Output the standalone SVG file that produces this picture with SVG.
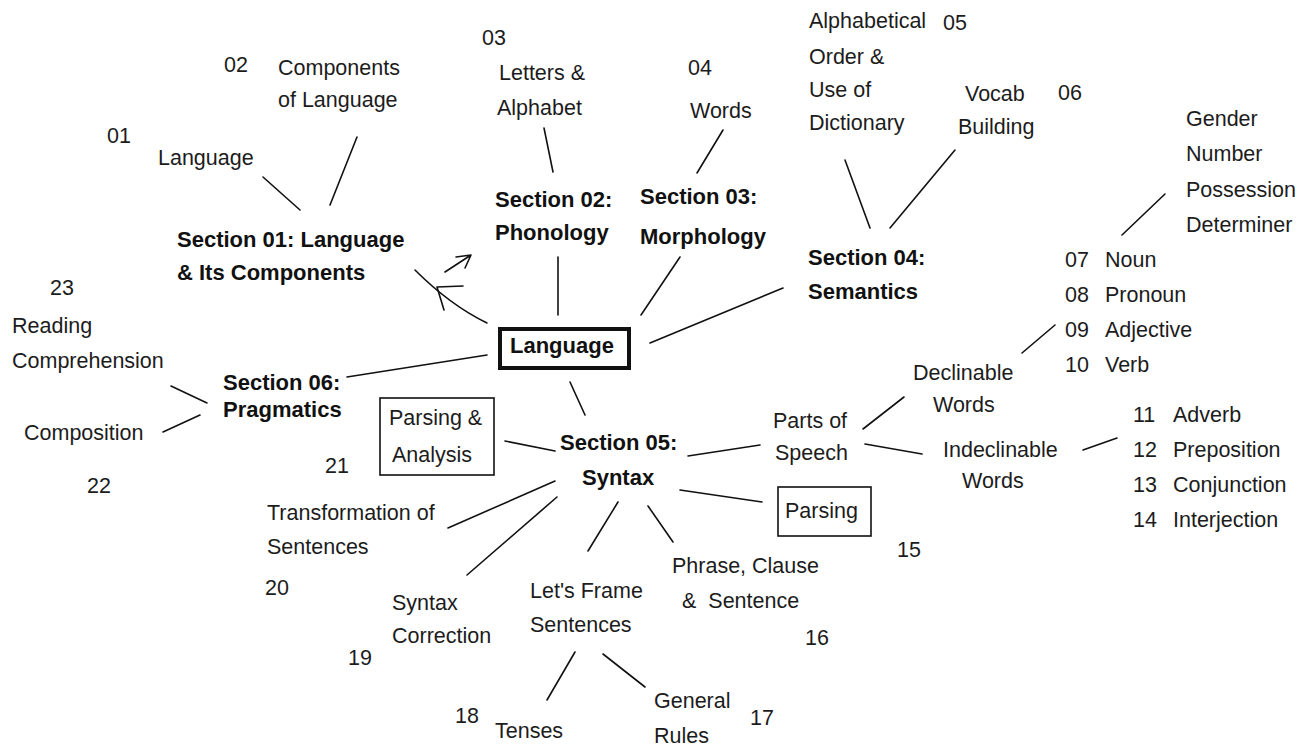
<svg xmlns="http://www.w3.org/2000/svg" width="1313" height="749" viewBox="0 0 1313 749">
<style>
text{font-family:"Liberation Sans",Arial,sans-serif;font-size:21.5px;fill:#1c1c1c}
.b{font-weight:bold;font-size:22px;fill:#111}
.c line,.c path{stroke:#111;stroke-width:1.6;fill:none;stroke-linecap:round}
.box{fill:none;stroke:#111;stroke-width:1.6}
</style>
<rect width="1313" height="749" fill="#fff"/>
<g class="c" id="connectors">
<line x1="263" y1="177" x2="300" y2="210"/>
<line x1="357" y1="137" x2="330" y2="205"/>
<line x1="544" y1="128" x2="553" y2="172"/>
<line x1="723" y1="130" x2="697" y2="173"/>
<line x1="845" y1="160" x2="870" y2="228"/>
<line x1="955" y1="150" x2="890" y2="228"/>
<line x1="1122" y1="235" x2="1165" y2="194"/>
<line x1="558" y1="257" x2="558" y2="315"/>
<line x1="641" y1="315" x2="680" y2="257"/>
<line x1="650" y1="343" x2="783" y2="288"/>
<line x1="347" y1="377" x2="487" y2="355"/>
<line x1="570" y1="382" x2="585" y2="415"/>
<line x1="171" y1="386" x2="207" y2="403"/>
<line x1="163" y1="432" x2="200" y2="415"/>
<path d="M487,323 Q450,305 415,270"/>
<path d="M437,287 L463,286 M437,287 L444,310"/>
<path d="M445,272 L471,255 M471,255 L456,257 M471,255 L465,268"/>
<line x1="505" y1="441" x2="555" y2="451"/>
<line x1="448" y1="528" x2="555" y2="481"/>
<line x1="557" y1="497" x2="467" y2="575"/>
<line x1="618" y1="502" x2="588" y2="551"/>
<line x1="648" y1="506" x2="673" y2="542"/>
<line x1="688" y1="456" x2="760" y2="445"/>
<line x1="680" y1="490" x2="762" y2="502"/>
<line x1="863" y1="429" x2="904" y2="397"/>
<line x1="865" y1="444" x2="922" y2="454"/>
<line x1="1022" y1="353" x2="1055" y2="325"/>
<line x1="1083" y1="450" x2="1117" y2="438"/>
<line x1="575" y1="652" x2="547" y2="700"/>
<line x1="603" y1="654" x2="645" y2="687"/>
</g>
<g id="n01"><text x="107" y="143">01</text><text x="158" y="165">Language</text></g>
<g id="n02"><text x="224" y="72">02</text><text x="278" y="75">Components</text><text x="278" y="107">of Language</text></g>
<g id="n03"><text x="482" y="45">03</text><text x="499" y="80">Letters &amp;</text><text x="497" y="115">Alphabet</text></g>
<g id="n04"><text x="688" y="75">04</text><text x="690" y="118">Words</text></g>
<g id="n05"><text x="809" y="28">Alphabetical</text><text x="809" y="64">Order &amp;</text><text x="809" y="97">Use of</text><text x="809" y="130">Dictionary</text><text x="943" y="30">05</text></g>
<g id="n06"><text x="965" y="101">Vocab</text><text x="958" y="134">Building</text><text x="1058" y="100">06</text></g>
<g id="noun-features"><text x="1186" y="126">Gender</text><text x="1186" y="161">Number</text><text x="1186" y="197">Possession</text><text x="1186" y="232">Determiner</text></g>
<g id="declinable-list"><text x="1065" y="267">07</text><text x="1105" y="267">Noun</text><text x="1065" y="302">08</text><text x="1105" y="302">Pronoun</text><text x="1065" y="337">09</text><text x="1105" y="337">Adjective</text><text x="1065" y="372">10</text><text x="1105" y="372">Verb</text></g>
<g id="indeclinable-list"><text x="1133" y="422">11</text><text x="1173" y="422">Adverb</text><text x="1133" y="457">12</text><text x="1173" y="457">Preposition</text><text x="1133" y="492">13</text><text x="1173" y="492">Conjunction</text><text x="1133" y="527">14</text><text x="1173" y="527">Interjection</text></g>
<g id="sec01"><text class="b" x="177" y="247">Section 01: Language</text><text class="b" x="177" y="280">&amp; Its Components</text></g>
<g id="sec02"><text class="b" x="495" y="207">Section 02:</text><text class="b" x="495" y="240">Phonology</text></g>
<g id="sec03"><text class="b" x="640" y="204">Section 03:</text><text class="b" x="640" y="244">Morphology</text></g>
<g id="sec04"><text class="b" x="808" y="265">Section 04:</text><text class="b" x="808" y="299">Semantics</text></g>
<g id="language"><rect x="500" y="329" width="129" height="39" fill="none" stroke="#111" stroke-width="4"/><text class="b" x="510" y="353">Language</text></g>
<g id="n23"><text x="50" y="295">23</text><text x="12" y="333">Reading</text><text x="12" y="368">Comprehension</text></g>
<g id="n22"><text x="24" y="440">Composition</text><text x="87" y="493">22</text></g>
<g id="sec06"><text class="b" x="223" y="390">Section 06:</text><text class="b" x="223" y="417">Pragmatics</text></g>
<g id="n21"><rect class="box" x="380" y="398" width="114" height="77"/><text x="389" y="425">Parsing &amp;</text><text x="392" y="462">Analysis</text><text x="325" y="473">21</text></g>
<g id="sec05"><text class="b" x="560" y="450">Section 05:</text><text class="b" x="582" y="485">Syntax</text></g>
<g id="parts"><text x="773" y="428">Parts of</text><text x="775" y="460">Speech</text></g>
<g id="declinable"><text x="913" y="380">Declinable</text><text x="933" y="412">Words</text></g>
<g id="indeclinable"><text x="943" y="457">Indeclinable</text><text x="962" y="488">Words</text></g>
<g id="n15"><rect class="box" x="778" y="487" width="93" height="49"/><text x="785" y="518">Parsing</text><text x="897" y="557">15</text></g>
<g id="n20"><text x="267" y="520">Transformation of</text><text x="267" y="554">Sentences</text><text x="265" y="595">20</text></g>
<g id="n19"><text x="392" y="610">Syntax</text><text x="392" y="643">Correction</text><text x="348" y="665">19</text></g>
<g id="frame"><text x="530" y="598">Let's Frame</text><text x="530" y="632">Sentences</text></g>
<g id="n16"><text x="672" y="573">Phrase, Clause</text><text x="682" y="608" xml:space="preserve">&amp;  Sentence</text><text x="805" y="645">16</text></g>
<g id="n18"><text x="455" y="723">18</text><text x="495" y="738">Tenses</text></g>
<g id="n17"><text x="654" y="708">General</text><text x="654" y="743">Rules</text><text x="750" y="725">17</text></g>
</svg>
